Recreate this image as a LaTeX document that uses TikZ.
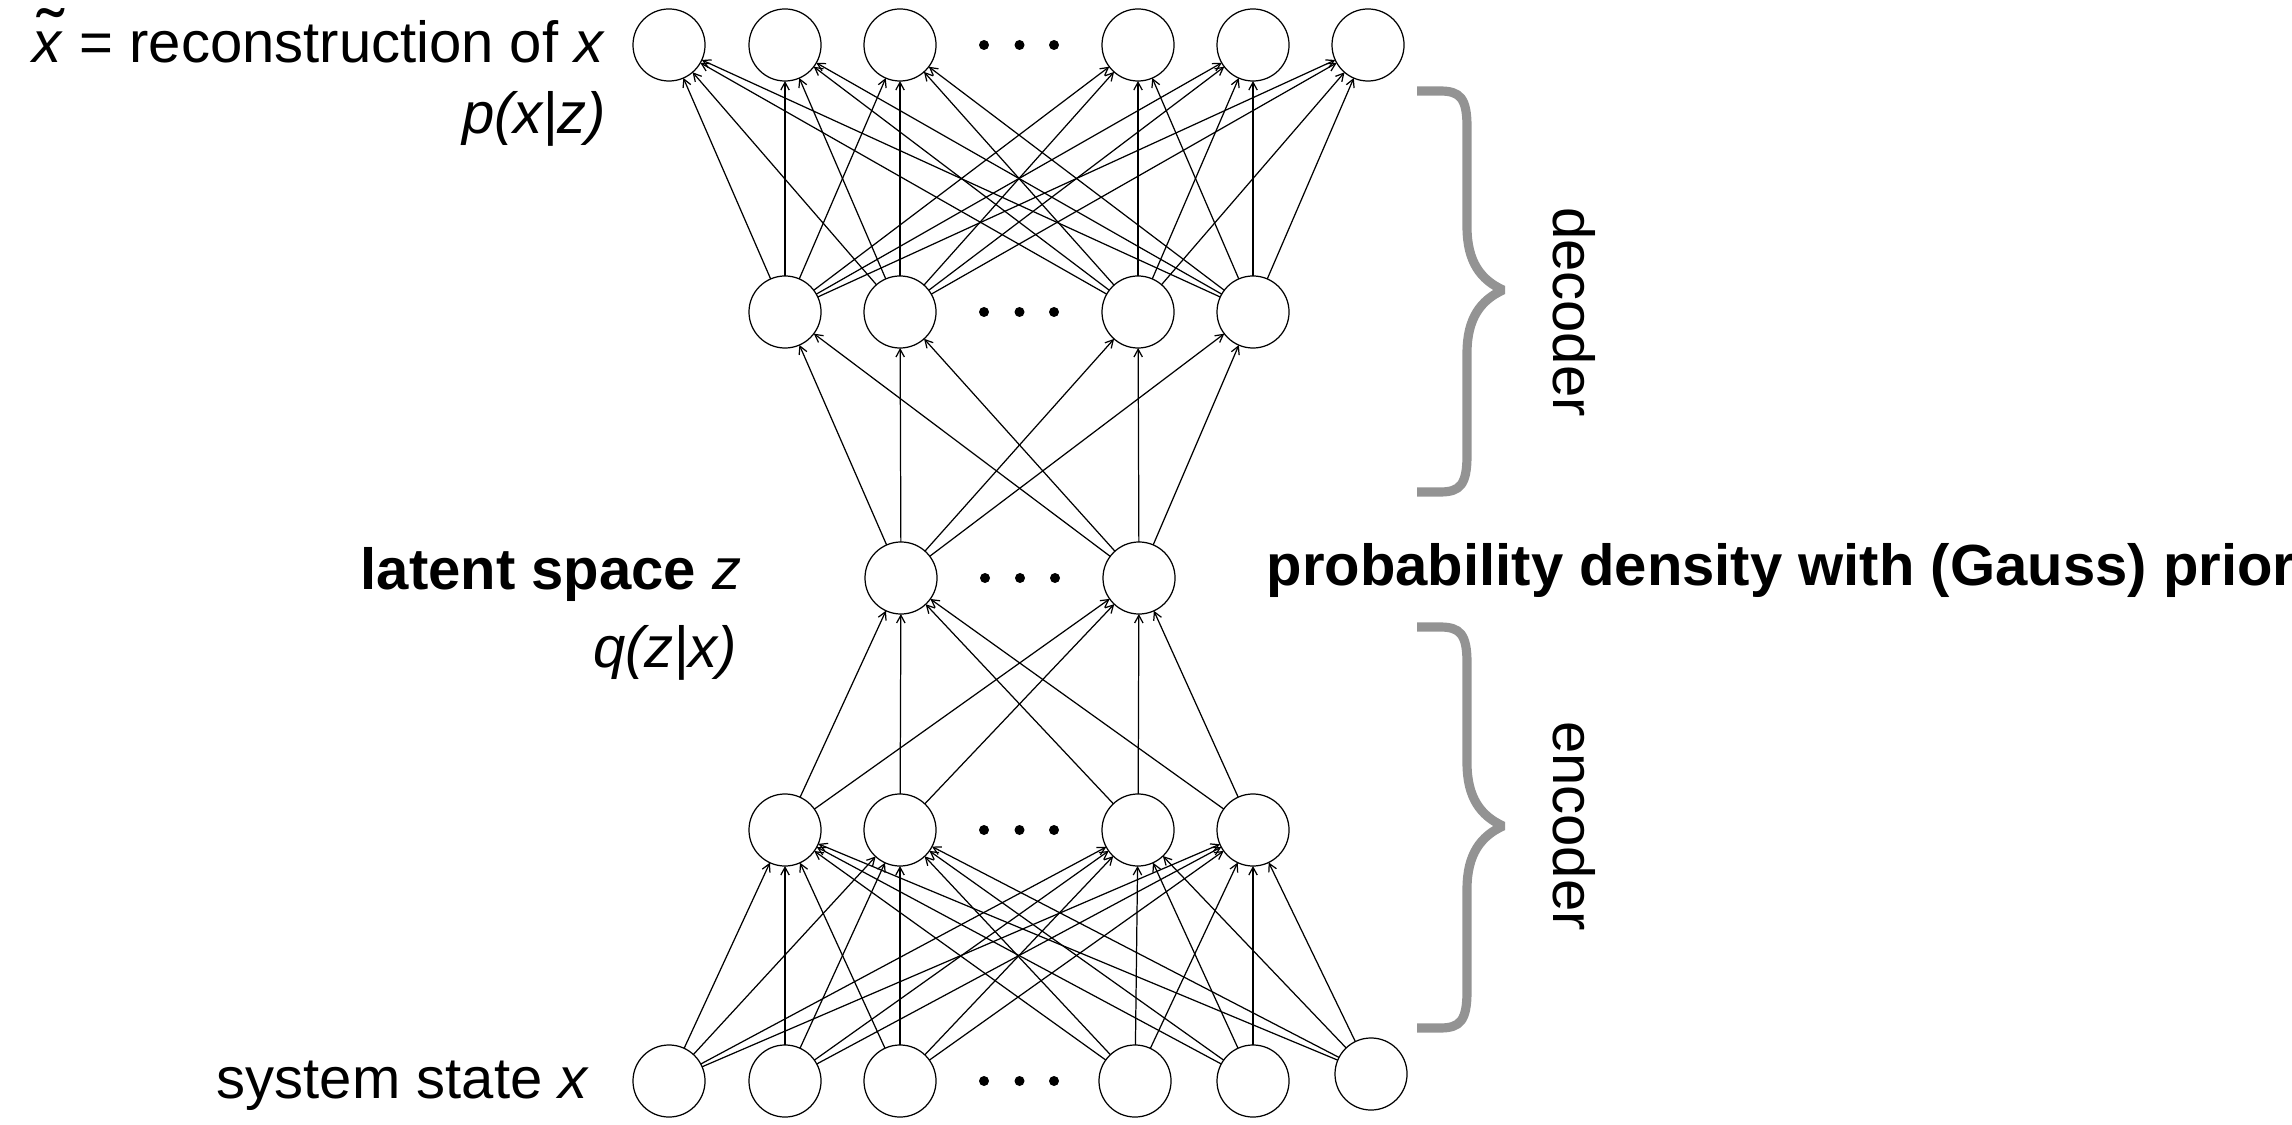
\documentclass[tikz,border=0pt]{standalone}
\usepackage{fontspec}
\setmainfont{Liberation Sans}
\usetikzlibrary{arrows.meta}
\definecolor{bracegray}{HTML}{939393}
\begin{document}
\begin{tikzpicture}[x=0.01cm,y=-0.01cm,
  unit/.style={circle,draw,line width=0.35pt,minimum size=0.72cm,inner sep=0pt,outer sep=0pt},
  dot/.style={circle,fill,inner sep=0pt,minimum size=0.1cm},
  link/.style={line width=0.35pt,-{Straight Barb[length=2.2pt,width=2.4pt]}},
  lbl/.style={font=\fontsize{16.5}{20}\selectfont,inner sep=0pt},
  brace/.style={draw=bracegray,line width=2.6pt,line join=bevel}]
\useasboundingbox (0,0) rectangle (2292,1125);

% output layer (reconstruction)
\foreach \n/\x in {1/669,2/785,3/900,4/1138,5/1253,6/1368}
  \node[unit] (o\n) at (\x,45) {};
% decoder hidden layer
\foreach \n/\x in {1/785,2/900,3/1138,4/1253}
  \node[unit] (d\n) at (\x,312) {};
% latent layer
\foreach \n/\x in {1/901,2/1139}
  \node[unit] (z\n) at (\x,578) {};
% encoder hidden layer
\foreach \n/\x in {1/785,2/900,3/1138,4/1253}
  \node[unit] (e\n) at (\x,830) {};
% input layer
\foreach \n/\x/\y in {1/669/1081,2/785/1081,3/900/1081,4/1135/1081,5/1253/1081,6/1371/1074}
  \node[unit] (i\n) at (\x,\y) {};

% ellipsis dots in each layer
\foreach \r/\y in {o/45,d/312,e/830,i/1081}
  \foreach \k/\x in {1/984,2/1019.5,3/1054}
    \node[dot] (dots-\r-\k) at (\x,\y) {};
\foreach \k/\x in {1/985,2/1020,3/1055}
  \node[dot] (dots-z-\k) at (\x,578) {};

% fully connected links
\foreach \i in {1,...,6}
  \foreach \j in {1,...,4}
    \draw[link] (i\i) -- (e\j);
\foreach \i in {1,...,4}
  \foreach \j in {1,2}
    \draw[link] (e\i) -- (z\j);
\foreach \i in {1,2}
  \foreach \j in {1,...,4}
    \draw[link] (z\i) -- (d\j);
\foreach \i in {1,...,4}
  \foreach \j in {1,...,6}
    \draw[link] (d\i) -- (o\j);

% braces
\foreach \off in {0,536} {
  \draw[brace] (1417,91+\off) -- (1440,91+\off)
    .. controls (1460,91+\off) and (1467,98+\off) .. (1467,127+\off)
    -- (1467,227+\off)
    .. controls (1467,262+\off) and (1481,280+\off) .. (1503,290+\off)
    .. controls (1481,300+\off) and (1467,318+\off) .. (1467,353+\off)
    -- (1467,455+\off)
    .. controls (1467,485+\off) and (1460,492+\off) .. (1440,492+\off)
    -- (1417,492+\off);
}

% labels
\node[lbl,anchor=base east] (recon) at (606,63)
  {\makebox[0pt][l]{\kern0.06em\makebox[0.5em][c]{\raisebox{0.08em}{\scalebox{1.4}[1.2]{\char"02DC}}}}\textit{x} = reconstruction of \textit{x}};
\node[lbl,anchor=base east] (pxz) at (607,134) {\itshape p(x|z)};
\node[lbl,anchor=base east] (latent) at (742,590) {\textbf{latent space} \textit{z}};
\node[lbl,anchor=base east] (qzx) at (738,667) {\itshape q(z|x)};
\node[lbl,anchor=base east] (state) at (590,1098) {system state \textit{x}};
\node[lbl,anchor=base west] (prior) at (1266,585) {\bfseries probability density with (Gauss) prior};
\node[lbl,rotate=-90,anchor=base] (declbl) at (1553,312) {decoder};
\node[lbl,rotate=-90,anchor=base] (enclbl) at (1553,826) {encoder};
\end{tikzpicture}
\end{document}
